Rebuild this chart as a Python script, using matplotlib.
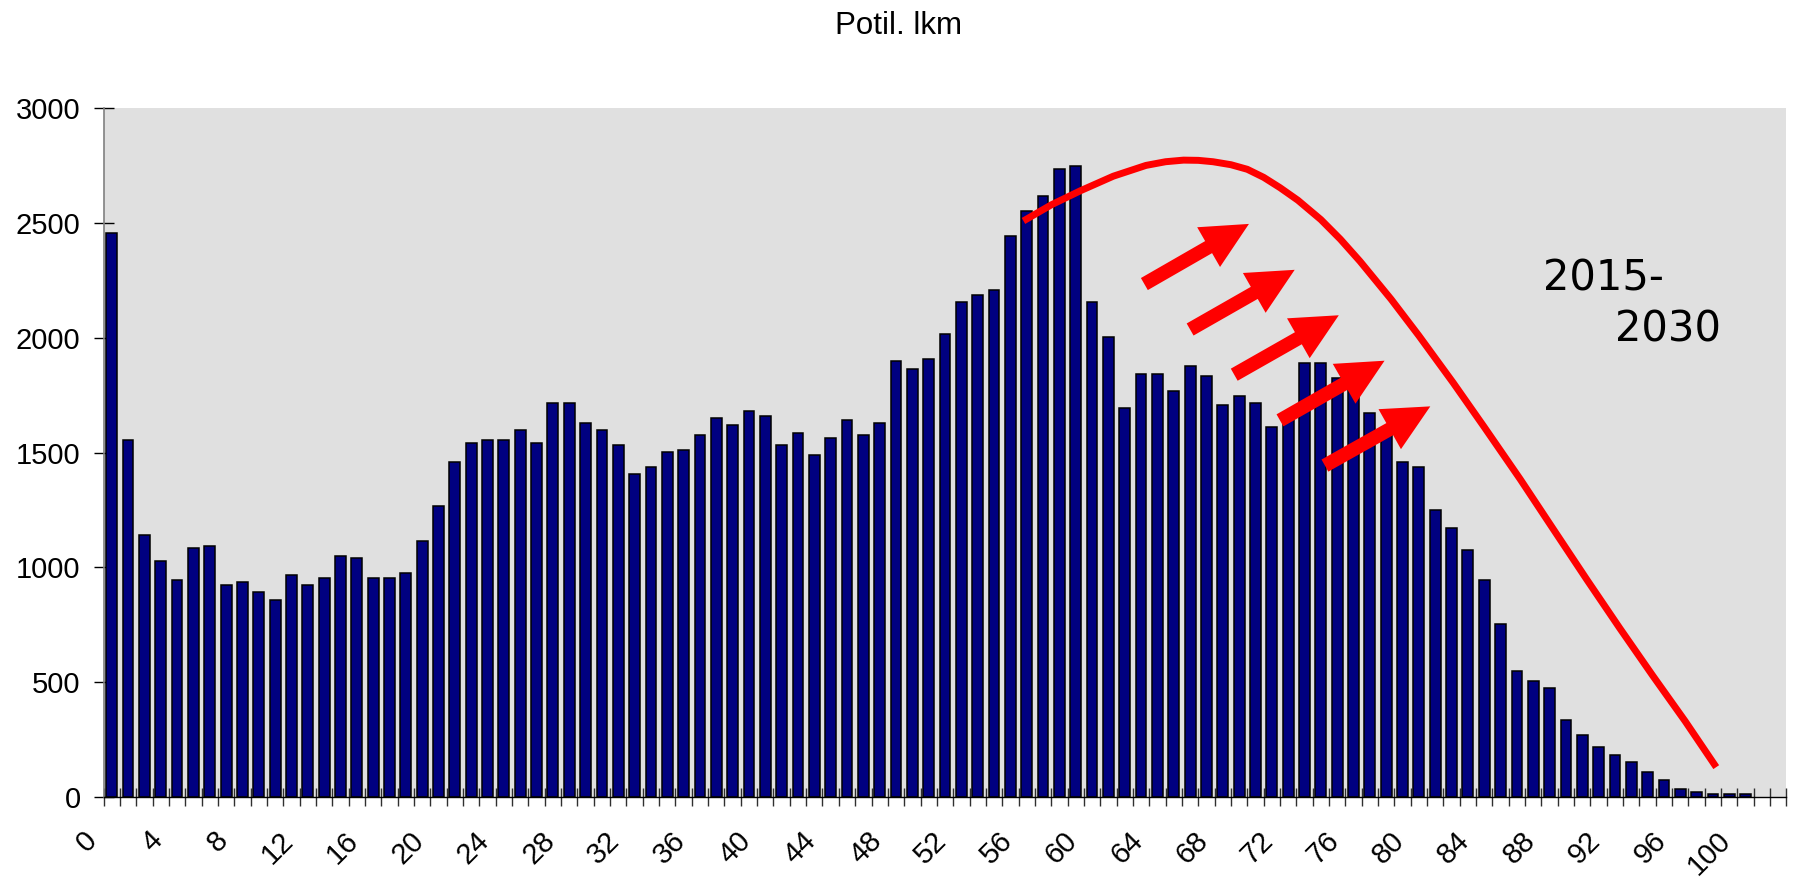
import matplotlib.pyplot as plt
import matplotlib.transforms as mtransforms
import numpy as np

# population by age (bars), ages 0..100, axis has room for 103 slots
ages = list(range(0, 101))
counts = [2456, 1556, 1140, 1030, 946, 1086, 1094, 924, 936, 892,
          860, 968, 924, 954, 1052, 1042, 954, 954, 976, 1116,
          1266, 1458, 1544, 1556, 1556, 1598, 1544, 1716, 1716, 1630,
          1598, 1534, 1406, 1438, 1502, 1512, 1578, 1652, 1620, 1684,
          1662, 1534, 1588, 1490, 1566, 1642, 1578, 1630, 1898, 1866,
          1908, 2016, 2156, 2188, 2210, 2446, 2555, 2620, 2737, 2748,
          2156, 2004, 1696, 1844, 1844, 1770, 1876, 1834, 1706, 1748,
          1716, 1610, 1650, 1890, 1890, 1825, 1800, 1675, 1580, 1460,
          1440, 1249, 1172, 1075, 947, 753, 548, 507, 474, 335,
          271, 216, 183, 152, 108, 75, 35, 23, 14, 14,
          14]
n_slots = 103

# red hand-drawn curve (age, value)
curve_age = [55.8, 57.5, 59.3, 61.3, 63.3, 64.5, 65.6, 66.5, 67.4, 68.5,
             69.5, 70.5, 71.5, 72.6, 74.0, 75.2, 76.4, 78.3, 80.0, 82.1,
             84.0, 86.2, 88.2, 90.3, 92.3, 94.3, 96.3, 98.2]
curve_val = [2510, 2580, 2642, 2705, 2752, 2768, 2775, 2774, 2768, 2755,
             2735, 2700, 2655, 2600, 2516, 2430, 2334, 2169, 2010, 1805,
             1612, 1385, 1170, 945, 735, 530, 330, 130]

# the five red arrows
arrow_tail_age = [63.2, 66.0, 68.7, 71.5, 74.25]
arrow_tail_val = [2235, 2037, 1840, 1641, 1444]
arrow_tip_age = [69.6, 72.4, 75.1, 77.9, 80.7]
arrow_tip_val = [2497, 2297, 2099, 1901, 1702]

xtick_ages = list(range(0, 101, 4))
ytick_vals = [0, 500, 1000, 1500, 2000, 2500, 3000]

plt.rcParams['font.family'] = ['Liberation Sans', 'DejaVu Sans']

fig = plt.figure(figsize=(17.98, 8.82), dpi=100)
ax = fig.add_axes([0.0576, 0.0964, 0.936, 0.7806])
ax.set_facecolor('#e0e0e0')

ax.bar(ages, counts, width=0.66, color='#000080', edgecolor='black',
       linewidth=1.1, zorder=2)
ax.set_xlim(-0.5, n_slots - 0.5)
ax.set_ylim(0, 3000)

ax.plot(curve_age, curve_val, color='red', lw=5, solid_capstyle='butt',
        solid_joinstyle='round', zorder=3)

for i in range(len(arrow_tip_age)):
    ax.annotate('', xy=(arrow_tip_age[i], arrow_tip_val[i]),
                xytext=(arrow_tail_age[i], arrow_tail_val[i]),
                arrowprops=dict(arrowstyle='simple,head_width=3.3,head_length=3.35,tail_width=1.0',
                                mutation_scale=10, color='red', lw=0,
                                shrinkA=0, shrinkB=0),
                zorder=4)

# axes styling
for s in ['top', 'right']:
    ax.spines[s].set_visible(False)
ax.spines['left'].set_color('#808080')
ax.spines['left'].set_linewidth(1.2)
ax.spines['bottom'].set_color('black')
ax.spines['bottom'].set_linewidth(1.0)

ax.set_yticks(ytick_vals)
ax.tick_params(axis='y', direction='inout', length=14, width=1, pad=9.6,
               labelsize=21, colors='black')

ax.set_xticks(xtick_ages)
ax.set_xticks(np.arange(-0.5, n_slots, 1), minor=True)
ax.tick_params(axis='x', which='major', length=0, pad=21, labelsize=21)
ax.tick_params(axis='x', which='minor', direction='inout', length=13,
               width=1, color='#303030')
offset = mtransforms.ScaledTranslation(-0.09, 0, fig.dpi_scale_trans)
for lab in ax.get_xticklabels():
    lab.set_rotation(45)
    lab.set_ha('right')
    lab.set_va('top')
    lab.set_transform(lab.get_transform() + offset)

fig.text(898.8 / 1798, 1 - 34 / 882, 'Potil. lkm', ha='center',
         va='baseline', fontsize=22.5)
fig.text(1542.7 / 1798, 1 - 290.7 / 882, '2015-', ha='left',
         va='baseline', fontsize=30, family='DejaVu Sans')
fig.text(1615 / 1798, 1 - 341 / 882, '2030', ha='left',
         va='baseline', fontsize=30, family='DejaVu Sans')

fig.savefig('out.png', dpi=100)
